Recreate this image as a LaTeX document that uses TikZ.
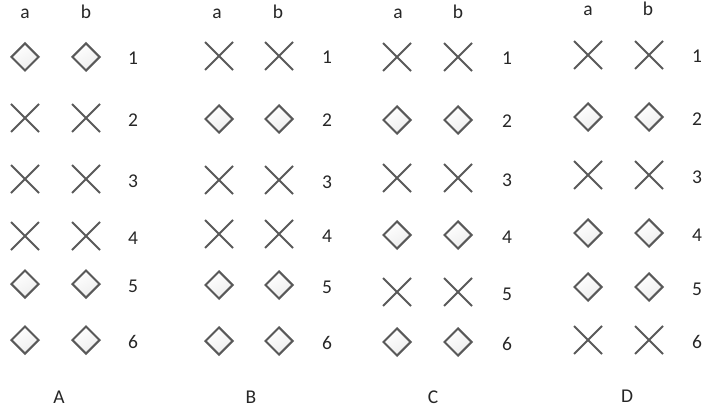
\documentclass[tikz,border=0pt]{standalone}
\usepackage{fontspec}
\setmainfont{Carlito}
\usetikzlibrary{shapes.geometric,shapes.misc}
\definecolor{markgray}{HTML}{595959}
\definecolor{txtgray}{HTML}{262626}
\tikzset{
  dmark/.style={diamond,draw=markgray,line width=2pt,inner sep=0pt,
    minimum size=28pt,top color=white,bottom color=gray!14,shading angle=30},
  xmark/.style={cross out,draw=markgray,line width=2pt,inner sep=0pt,
    minimum size=26pt},
  lbl/.style={font=\fontsize{19.5}{22}\selectfont,text=txtgray,anchor=base,inner sep=0pt}
}
\begin{document}
\begin{tikzpicture}[x=1pt,y=-1pt]
  \useasboundingbox (0,0) rectangle (705,412);

  % panel A
  \node[lbl] (A-a) at (25,19) {a};
  \node[lbl] (A-b) at (86,19) {b};
  \foreach \m/\ry [count=\r] in {d/57,x/118,x/179,x/236,d/284,d/340} {
    \node[\m mark] (A-a\r) at (25,\ry) {};
    \node[\m mark] (A-b\r) at (86,\ry) {};
    \node[lbl] (A-n\r) at (133,\ry+8) {\r};
  }
  \node[lbl] (A) at (59,403) {A};

  % panel B
  \node[lbl] (B-a) at (217,19) {a};
  \node[lbl] (B-b) at (278,19) {b};
  \foreach \m/\ry [count=\r] in {x/56,d/119,x/180,x/234,d/285,d/341} {
    \node[\m mark] (B-a\r) at (219,\ry) {};
    \node[\m mark] (B-b\r) at (279,\ry) {};
    \node[lbl] (B-n\r) at (327,\ry+8) {\r};
  }
  \node[lbl] (B) at (251,403) {B};

  % panel C
  \node[lbl] (C-a) at (398,19) {a};
  \node[lbl] (C-b) at (458,19) {b};
  \foreach \m/\ry [count=\r] in {x/57,d/120,x/178,d/235,x/292,d/342} {
    \node[\m mark] (C-a\r) at (397,\ry) {};
    \node[\m mark] (C-b\r) at (458,\ry) {};
    \node[lbl] (C-n\r) at (507,\ry+8) {\r};
  }
  \node[lbl] (C) at (433,403) {C};

  % panel D
  \node[lbl] (D-a) at (588,16) {a};
  \node[lbl] (D-b) at (648,16) {b};
  \foreach \m/\ry [count=\r] in {x/55,d/117,x/175,d/233,d/287,x/340} {
    \node[\m mark] (D-a\r) at (588,\ry) {};
    \node[\m mark] (D-b\r) at (649,\ry) {};
    \node[lbl] (D-n\r) at (697,\ry+8) {\r};
  }
  \node[lbl] (D) at (627,402) {D};
\end{tikzpicture}
\end{document}
